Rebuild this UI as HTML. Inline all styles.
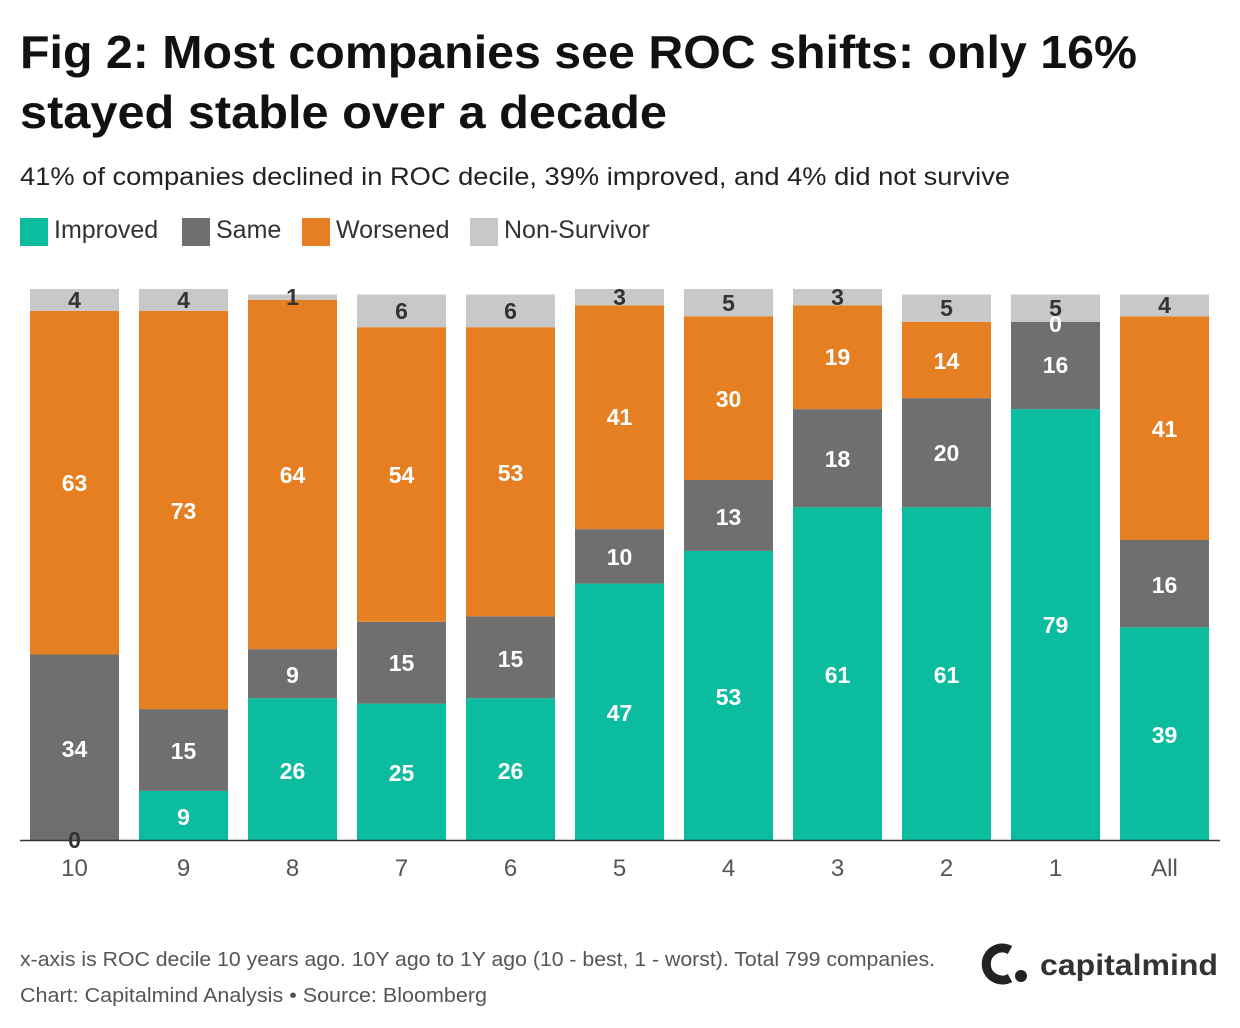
<!DOCTYPE html>
<html><head><meta charset="utf-8"><style>
body{margin:0;background:#fff;}
svg{display:block;font-family:"Liberation Sans",sans-serif;}
.l{font-size:23px;font-weight:bold;fill:#fff;text-anchor:middle;}
.d{font-size:23px;font-weight:bold;fill:#333;text-anchor:middle;}
.t{font-size:24px;fill:#555;text-anchor:middle;}
</style></head><body>
<svg width="1240" height="1028" viewBox="0 0 1240 1028">
<text x="20" y="68" font-size="46" font-weight="bold" fill="#111" textLength="1117" lengthAdjust="spacingAndGlyphs">Fig 2: Most companies see ROC shifts: only 16%</text>
<text x="20" y="128" font-size="46" font-weight="bold" fill="#111" textLength="647" lengthAdjust="spacingAndGlyphs">stayed stable over a decade</text>
<text x="20" y="185" font-size="25" fill="#222" textLength="990" lengthAdjust="spacingAndGlyphs">41% of companies declined in ROC decile, 39% improved, and 4% did not survive</text>
<rect x="20" y="218" width="28" height="28" fill="#0bbc9e"/><text x="54" y="238" font-size="25" fill="#333">Improved</text>
<rect x="182" y="218" width="28" height="28" fill="#6f6f6f"/><text x="216" y="238" font-size="25" fill="#333">Same</text>
<rect x="302" y="218" width="28" height="28" fill="#e67e22"/><text x="336" y="238" font-size="25" fill="#333">Worsened</text>
<rect x="470" y="218" width="28" height="28" fill="#c8c8c8"/><text x="504" y="238" font-size="25" fill="#333">Non-Survivor</text>

<g>
<rect x="30" y="654.5" width="89" height="185.5" fill="#6f6f6f"/>
<rect x="30" y="310.9" width="89" height="343.6" fill="#e67e22"/>
<rect x="30" y="289" width="89" height="21.9" fill="#c8c8c8"/>
<text class="d" x="74.5" y="848">0</text><text class="l" x="74.5" y="757">34</text><text class="l" x="74.5" y="491">63</text><text class="d" x="74.5" y="308">4</text>
<rect x="139" y="790.9" width="89" height="49.1" fill="#0bbc9e"/>
<rect x="139" y="709.1" width="89" height="81.8" fill="#6f6f6f"/>
<rect x="139" y="310.9" width="89" height="398.2" fill="#e67e22"/>
<rect x="139" y="289" width="89" height="21.9" fill="#c8c8c8"/>
<text class="l" x="183.5" y="825">9</text><text class="l" x="183.5" y="759">15</text><text class="l" x="183.5" y="519">73</text><text class="d" x="183.5" y="308">4</text>
<rect x="248" y="698.2" width="89" height="141.8" fill="#0bbc9e"/>
<rect x="248" y="649.1" width="89" height="49.1" fill="#6f6f6f"/>
<rect x="248" y="299.9" width="89" height="349.2" fill="#e67e22"/>
<rect x="248" y="294.5" width="89" height="5.4" fill="#c8c8c8"/>
<text class="l" x="292.5" y="779">26</text><text class="l" x="292.5" y="683">9</text><text class="l" x="292.5" y="483">64</text><text class="d" x="292.5" y="305">1</text>
<rect x="357" y="703.6" width="89" height="136.4" fill="#0bbc9e"/>
<rect x="357" y="621.8" width="89" height="81.8" fill="#6f6f6f"/>
<rect x="357" y="327.2" width="89" height="294.6" fill="#e67e22"/>
<rect x="357" y="294.5" width="89" height="32.7" fill="#c8c8c8"/>
<text class="l" x="401.5" y="781">25</text><text class="l" x="401.5" y="671">15</text><text class="l" x="401.5" y="483">54</text><text class="d" x="401.5" y="319">6</text>
<rect x="466" y="698.2" width="89" height="141.8" fill="#0bbc9e"/>
<rect x="466" y="616.3" width="89" height="81.9" fill="#6f6f6f"/>
<rect x="466" y="327.2" width="89" height="289.1" fill="#e67e22"/>
<rect x="466" y="294.5" width="89" height="32.7" fill="#c8c8c8"/>
<text class="l" x="510.5" y="779">26</text><text class="l" x="510.5" y="667">15</text><text class="l" x="510.5" y="481">53</text><text class="d" x="510.5" y="319">6</text>
<rect x="575" y="583.6" width="89" height="256.4" fill="#0bbc9e"/>
<rect x="575" y="529.1" width="89" height="54.5" fill="#6f6f6f"/>
<rect x="575" y="305.4" width="89" height="223.7" fill="#e67e22"/>
<rect x="575" y="289" width="89" height="16.4" fill="#c8c8c8"/>
<text class="l" x="619.5" y="721">47</text><text class="l" x="619.5" y="565">10</text><text class="l" x="619.5" y="425">41</text><text class="d" x="619.5" y="305">3</text>
<rect x="684" y="550.9" width="89" height="289.1" fill="#0bbc9e"/>
<rect x="684" y="480" width="89" height="70.9" fill="#6f6f6f"/>
<rect x="684" y="316.3" width="89" height="163.7" fill="#e67e22"/>
<rect x="684" y="289" width="89" height="27.3" fill="#c8c8c8"/>
<text class="l" x="728.5" y="705">53</text><text class="l" x="728.5" y="525">13</text><text class="l" x="728.5" y="407">30</text><text class="d" x="728.5" y="311">5</text>
<rect x="793" y="507.2" width="89" height="332.8" fill="#0bbc9e"/>
<rect x="793" y="409.1" width="89" height="98.1" fill="#6f6f6f"/>
<rect x="793" y="305.4" width="89" height="103.7" fill="#e67e22"/>
<rect x="793" y="289" width="89" height="16.4" fill="#c8c8c8"/>
<text class="l" x="837.5" y="683">61</text><text class="l" x="837.5" y="467">18</text><text class="l" x="837.5" y="365">19</text><text class="d" x="837.5" y="305">3</text>
<rect x="902" y="507.2" width="89" height="332.8" fill="#0bbc9e"/>
<rect x="902" y="398.1" width="89" height="109.1" fill="#6f6f6f"/>
<rect x="902" y="321.8" width="89" height="76.3" fill="#e67e22"/>
<rect x="902" y="294.5" width="89" height="27.3" fill="#c8c8c8"/>
<text class="l" x="946.5" y="683">61</text><text class="l" x="946.5" y="461">20</text><text class="l" x="946.5" y="369">14</text><text class="d" x="946.5" y="316">5</text>
<rect x="1011" y="409.1" width="89" height="430.9" fill="#0bbc9e"/>
<rect x="1011" y="321.8" width="89" height="87.3" fill="#6f6f6f"/>
<rect x="1011" y="294.5" width="89" height="27.3" fill="#c8c8c8"/>
<text class="l" x="1055.5" y="633">79</text><text class="l" x="1055.5" y="373">16</text><text class="l" x="1055.5" y="332">0</text><text class="d" x="1055.5" y="316">5</text>
<rect x="1120" y="627.3" width="89" height="212.7" fill="#0bbc9e"/>
<rect x="1120" y="540" width="89" height="87.3" fill="#6f6f6f"/>
<rect x="1120" y="316.3" width="89" height="223.7" fill="#e67e22"/>
<rect x="1120" y="294.5" width="89" height="21.8" fill="#c8c8c8"/>
<text class="l" x="1164.5" y="743">39</text><text class="l" x="1164.5" y="593">16</text><text class="l" x="1164.5" y="437">41</text><text class="d" x="1164.5" y="313">4</text>
</g>

<line x1="20" y1="840.5" x2="1220" y2="840.5" stroke="#333" stroke-width="1.5"/>
<text class="t" x="74.5" y="876">10</text><text class="t" x="183.5" y="876">9</text><text class="t" x="292.5" y="876">8</text><text class="t" x="401.5" y="876">7</text><text class="t" x="510.5" y="876">6</text><text class="t" x="619.5" y="876">5</text><text class="t" x="728.5" y="876">4</text><text class="t" x="837.5" y="876">3</text><text class="t" x="946.5" y="876">2</text><text class="t" x="1055.5" y="876">1</text><text class="t" x="1164.5" y="876">All</text>

<text x="20" y="966" font-size="20" fill="#555" textLength="915" lengthAdjust="spacingAndGlyphs">x-axis is ROC decile 10 years ago. 10Y ago to 1Y ago (10 - best, 1 - worst). Total 799 companies.</text>
<text x="20" y="1002" font-size="20" fill="#555" textLength="467" lengthAdjust="spacingAndGlyphs">Chart: Capitalmind Analysis • Source: Bloomberg</text>

<path d="M1010 950 A16 16 0 1 0 1010 978" fill="none" stroke="#222" stroke-width="9"/>
<circle cx="1021" cy="976" r="6" fill="#222"/>
<text x="1040" y="975" font-size="30" font-weight="600" fill="#333" textLength="178" lengthAdjust="spacingAndGlyphs">capitalmind</text>
</svg>
</body></html>
